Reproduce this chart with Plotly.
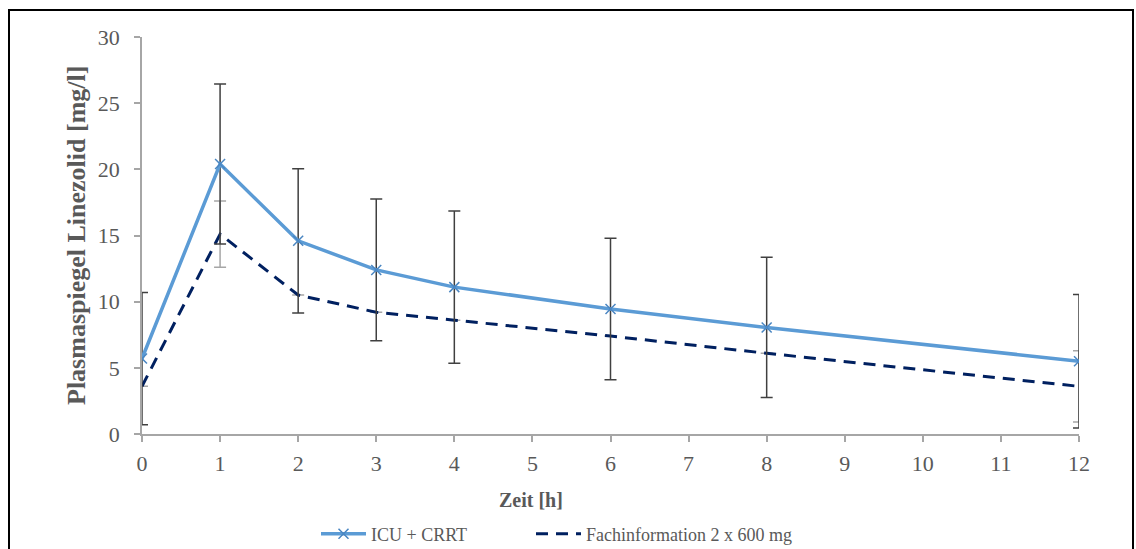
import plotly.graph_objects as go

zeit = [0, 1, 2, 3, 4, 6, 8, 12]
icu_crrt = [5.7, 20.4, 14.6, 12.4, 11.1, 9.45, 8.05, 5.5]
icu_sd = [5.0, 6.05, 5.45, 5.35, 5.75, 5.35, 5.3, 5.05]
fachinfo = [3.6, 15.1, 10.5, 9.2, 8.6, 7.4, 6.1, 3.6]
fach_sd = [None, 2.5, None, None, None, None, None, 2.7]
x_ticks = list(range(0, 13))
y_ticks = [0, 5, 10, 15, 20, 25, 30]

PL, PR, PT, PB = 142, 1079, 37, 434
W, H = 1136, 549

def px_x(p):
    return (p - PL) / (PR - PL)

def px_y(p):
    return (PB - p) / (PB - PT)

SERIF = "Liberation Serif"
GREY_TXT = "#595959"

fig = go.Figure()
fig.add_trace(go.Scatter(
    x=zeit, y=fachinfo, name="Fachinformation 2 x 600 mg", mode="lines",
    line=dict(color="#002060", width=3, dash="12px,8px"),
    error_y=dict(type="data", array=fach_sd, visible=True, color="#A6A6A6",
                 thickness=1.5, width=6),
    legend="legend2",
))
fig.add_trace(go.Scatter(
    x=zeit, y=icu_crrt, name="ICU + CRRT", mode="lines+markers",
    line=dict(color="#5B9BD5", width=3.5),
    marker=dict(symbol="x-thin", size=10, line=dict(color="#4A86C2", width=1.5)),
    error_y=dict(type="data", array=icu_sd, visible=True, color="#404040",
                 thickness=1.5, width=6),
    legend="legend",
))

legend_common = dict(orientation="h", yanchor="middle", y=px_y(534),
                     xanchor="left", bgcolor="rgba(0,0,0,0)",
                     font=dict(family=SERIF, size=18, color=GREY_TXT),
                     itemwidth=45)
axis_common = dict(showgrid=False, zeroline=False,
                   showline=True, linecolor="#A6A6A6", linewidth=1.5,
                   ticks="outside", ticklen=6, tickcolor="#A6A6A6", tickwidth=1.5,
                   tickfont=dict(family=SERIF, size=22, color=GREY_TXT))

fig.update_layout(
    width=W, height=H,
    margin=dict(l=PL, r=W - PR, t=PT, b=H - PB, autoexpand=False),
    paper_bgcolor="white", plot_bgcolor="white",
    font=dict(family=SERIF, size=19, color=GREY_TXT),
    showlegend=True,
    legend=dict(x=px_x(316), **legend_common),
    legend2=dict(x=px_x(531), **legend_common),
    xaxis=dict(range=[0, 12], tickvals=x_ticks, ticklabelstandoff=3, **axis_common),
    yaxis=dict(range=[0, 30], tickvals=y_ticks, ticklabelstandoff=10, **axis_common),
    annotations=[
        dict(text="<b>Plasmaspiegel Linezolid [mg/l]</b>", xref="paper", yref="paper",
             x=px_x(77), y=px_y(236), xanchor="center", yanchor="middle",
             textangle=-90, showarrow=False,
             font=dict(size=26, color=GREY_TXT, family=SERIF)),
        dict(text="<b>Zeit [h]</b>", xref="paper", yref="paper",
             x=px_x(531), y=px_y(500), xanchor="center", yanchor="middle",
             showarrow=False,
             font=dict(size=20, color=GREY_TXT, family=SERIF)),
    ],
    shapes=[dict(type="rect", xref="paper", yref="paper",
                 x0=px_x(9), x1=px_x(1133), y0=px_y(580), y1=px_y(10),
                 line=dict(color="black", width=2), fillcolor="rgba(0,0,0,0)")],
)
fig.write_html("out.html")
